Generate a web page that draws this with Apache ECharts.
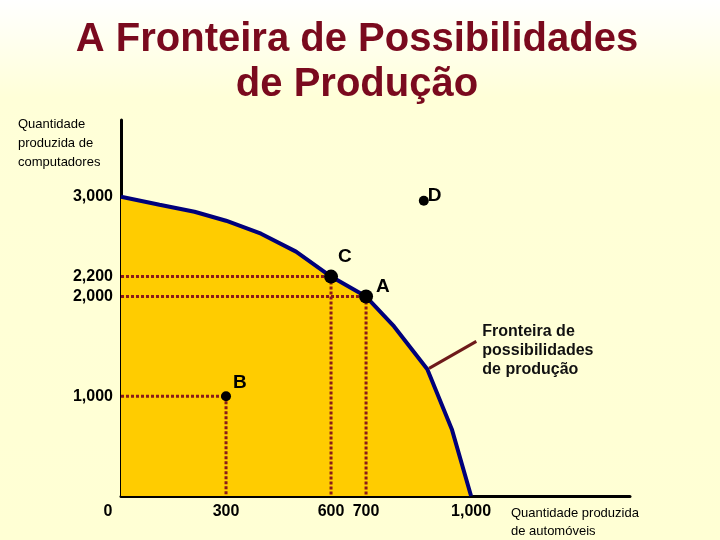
<!DOCTYPE html>
<html>
<head>
<meta charset="utf-8">
<script src="https://cdn.jsdelivr.net/npm/echarts@6/dist/echarts.min.js"></script>
<style>html,body{margin:0;padding:0;}#c{width:720px;height:540px;}</style>
</head>
<body>
<div id="c"></div>
<script>
// Frontier curve (automóveis, computadores)
const frontierX = [0, 110, 210, 300, 400, 500, 600, 700, 780, 875, 945, 1000];
const frontierY = [3000, 2920, 2850, 2760, 2630, 2450, 2200, 2000, 1700, 1270, 670, 0];
// Labelled points
const pointNames = ['A', 'B', 'C', 'D'];
const pointX = [700, 300, 600, 865];
const pointY = [2000, 1000, 2200, 2960];
// Tick labels
const xTicks = [0, 300, 600, 700, 1000];
const yTicks = [1000, 2000, 2200, 3000];
// Leader line for frontier annotation
const leaderX = [880, 1015];
const leaderY = [1280, 1550];

const chart = echarts.init(document.getElementById('c'));
const font = 'Arial, "Liberation Sans", sans-serif';
const dotted = {color: '#8B1A1A', width: 3, type: [3, 2]};

const guideSeries = [];
pointNames.forEach((n, i) => {
  if (n === 'D') return;
  guideSeries.push({
    type: 'line', data: [[0, pointY[i]], [pointX[i], pointY[i]]],
    symbol: 'none', lineStyle: dotted, z: 3, silent: true
  });
  guideSeries.push({
    type: 'line', data: [[pointX[i], pointY[i]], [pointX[i], 0]],
    symbol: 'none', lineStyle: dotted, z: 3, silent: true
  });
});

const option = {
  backgroundColor: {
    type: 'linear', x: 0, y: 0, x2: 0, y2: 1,
    colorStops: [{offset: 0, color: '#FFFFFF'}, {offset: 0.18, color: '#FFFFD8'}, {offset: 1, color: '#FFFFD4'}]
  },
  animation: false,
  title: {
    text: 'A Fronteira de Possibilidades\nde Produção',
    left: 352, top: 12, textAlign: 'center',
    textStyle: {fontFamily: font, fontSize: 40, fontWeight: 'bold', color: '#7A0A1E', lineHeight: 45}
  },
  grid: {left: 121, right: 90, top: 120, bottom: 43, containLabel: false},
  xAxis: {
    type: 'value', min: 0, max: 1454,
    name: 'Quantidade produzida\nde automóveis',
    nameLocation: 'end', nameGap: 0,
    nameTextStyle: {fontFamily: font, fontSize: 13, color: '#000', align: 'left', verticalAlign: 'top',
      lineHeight: 18, padding: [8, 0, 0, -119]},
    splitLine: {show: false},
    axisTick: {show: false},
    axisLine: {show: true, onZero: false, lineStyle: {color: '#000', width: 3}},
    axisLabel: {
      customValues: xTicks, margin: 8,
      fontFamily: font, fontSize: 16, fontWeight: 'bold', color: '#000',
      formatter: v => v === 0 ? '{z|0}' : v.toLocaleString('en-US'),
      rich: {z: {fontFamily: font, fontSize: 16, fontWeight: 'bold', color: '#000', padding: [0, 26, 0, 0]}}
    }
  },
  yAxis: {
    type: 'value', min: 0, max: 3770,
    name: 'Quantidade\nproduzida de\ncomputadores',
    nameLocation: 'end', nameGap: 0,
    nameTextStyle: {fontFamily: font, fontSize: 13, color: '#000', align: 'left', verticalAlign: 'top',
      lineHeight: 19, padding: [-5, 0, 0, -103]},
    splitLine: {show: false},
    axisTick: {show: false},
    axisLine: {show: true, onZero: false, lineStyle: {color: '#000', width: 3}},
    axisLabel: {
      customValues: yTicks, margin: 8,
      fontFamily: font, fontSize: 16, fontWeight: 'bold', color: '#000',
      formatter: v => v.toLocaleString('en-US')
    }
  },
  series: [
    {
      type: 'line',
      data: frontierX.map((x, i) => [x, frontierY[i]]),
      symbol: 'none', smooth: false,
      lineStyle: {color: '#00007A', width: 4},
      areaStyle: {color: '#FFCC00', opacity: 1},
      z: 2
    },
    ...guideSeries,
    {
      type: 'line',
      data: leaderX.map((x, i) => [x, leaderY[i]]),
      symbol: 'none',
      lineStyle: {color: '#6E1A1A', width: 3},
      z: 4,
      endLabel: {
        show: true, formatter: 'Fronteira de\npossibilidades\nde produção',
        fontFamily: font, fontSize: 16, fontWeight: 'bold', color: '#111',
        lineHeight: 19, align: 'left', distance: 6, offset: [0, 9]
      }
    },
    {
      type: 'scatter',
      data: pointX.map((x, i) => ({
        value: [x, pointY[i]], name: pointNames[i],
        symbolSize: (pointNames[i] === 'A' || pointNames[i] === 'C') ? 14 : 10,
        label: {
          position: pointNames[i] === 'C' ? [14, -22] : pointNames[i] === 'A' ? [17, -12] : pointNames[i] === 'B' ? [12, -18] : [9, -10]
        }
      })),
      itemStyle: {color: '#000', opacity: 1},
      z: 5,
      label: {
        show: true, formatter: p => p.name,
        fontFamily: font, fontSize: 19, fontWeight: 'bold', color: '#000'
      }
    }
  ]
};
chart.setOption(option);
</script>
</body>
</html>
